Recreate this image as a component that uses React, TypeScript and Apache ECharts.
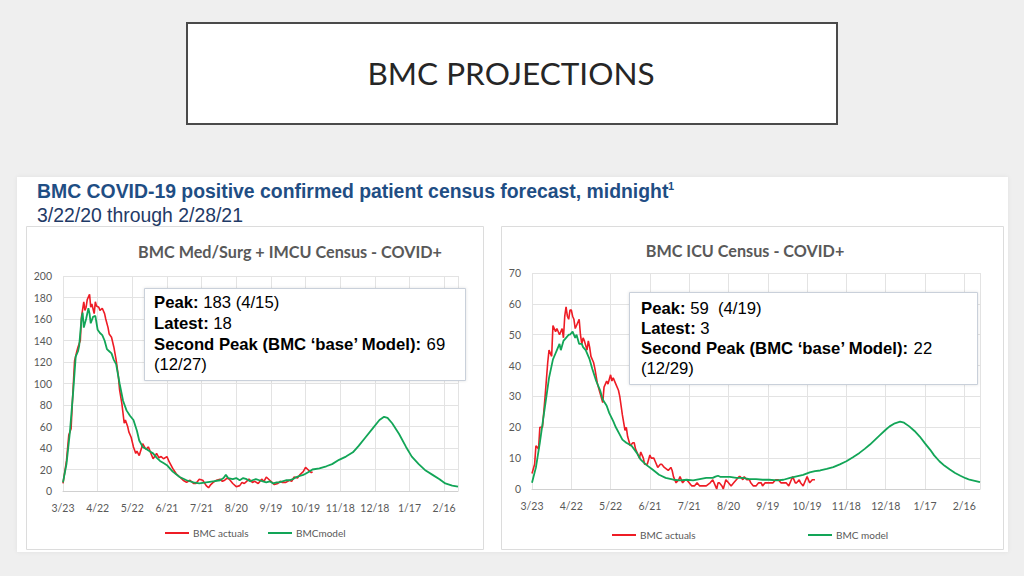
import React, { useEffect, useRef } from "react";
import * as echarts from "echarts";

// ---------- DATA ----------
const xTickStep = 30; // days between x ticks (3/23, 4/22, ...)
const xMaxDay = 342; // 2/28/21
const startDateUTC = Date.UTC(2020, 2, 23);

const leftActualDays = [0,3,5,7,8,10,12,13,15,16,18,19,20,21,23,24,25,27,28,29,31,32,34,36,37,39,40,42,44,46,48,49,51,53,54,56,57,59,61,63,64,66,68,69,71,72,74,75,78,80,81,83,85,87,90,92,95,98,101,104,107,110,113,115,118,121,124,126,128,130,133,136,138,140,142,144,147,150,153,155,157,159,161,164,166,169,172,174,176,179,181,183,186,188,190,193,196,198,200,203,205,208,210,212,213,215,216];
const leftActualVals = [7,28,52,58,80,121,130,134,140,162,176,168,171,178,183,171,174,165,176,172,171,168,170,165,160,152,146,143,134,122,106,94,81,63,66,60,55,50,41,35,37,33,40,44,40,39,41,38,30,33,35,31,32,30,32,27,21,16,13,10,8,10,7,7,11,10,5,3,6,8,10,11,9,10,12,11,7,4,5,8,7,9,11,8,9,7,11,9,13,10,8,6,7,9,8,8,10,9,13,12,15,18,22,20,19,17,18];

const leftModelDays = [0,3,6,9,11,13,14,16,17,18,20,22,23,24,26,28,30,32,34,36,38,40,42,44,46,49,52,55,58,61,64,66,69,72,75,78,81,84,87,90,95,101,107,113,118,124,130,136,139,141,143,147,150,153,156,159,162,164,167,170,173,176,179,182,185,187,190,193,196,199,202,205,208,210,213,216,222,228,233,239,245,251,256,262,268,274,278,281,285,291,297,302,308,314,320,326,331,337,342];
const leftModelVals = [8,25,55,95,125,130,135,160,166,152,160,170,165,156,162,163,150,147,145,140,132,130,128,122,118,100,84,75,70,66,56,47,41,39,37,35,31,28,26,24,18,13,10,8,7,8,9,10,12,15,12,11,12,10,12,11,9,10,11,10,9,8,9,7,8,8,9,10,10,11,13,14,15,16,18,20,21,23,25,29,32,36,42,50,58,66,69,68,63,53,41,32,25,19,15,11,7,5,4];

const rightActualDays = [0,2,3,5,6,8,10,12,13,15,16,18,19,21,23,24,25,26,27,28,29,30,31,32,33,34,36,37,38,39,40,42,43,44,45,47,48,50,52,54,55,57,58,60,61,62,64,66,67,69,71,72,73,75,77,78,79,81,82,83,85,86,88,90,91,93,94,96,98,99,101,104,106,107,108,110,112,113,115,117,118,120,122,124,126,128,129,131,133,136,138,140,141,142,143,145,146,148,150,152,154,156,158,159,161,162,164,166,167,169,171,173,175,176,178,180,182,184,186,188,190,192,194,196,198,199,201,202,204,205,207,209,210,212,214,215,216];
const rightActualVals = [5,8,14,13,20,20,30,41,45,43,53,51,52,50,52,49,56,59,56,55,58,58,56,55,52,53,55,50,47,49,48,45,48,46,43,41,39,34,31,28,33,35,34,37,35,36,34,32,30,24,19,20,17,14,15,15,13,11,10,12,10,8,8,11,10,10,9,7,8,8,7,6,7,6,4,2,3,4,2,3,3,2,1,1,2,1,1,1,1,2,3,1,0,2,2,1,0,3,2,1,2,3,4,4,3,4,3,3,2,1,1,2,2,1,2,2,2,2,3,3,2,2,2,1,3,4,2,2,3,2,1,3,4,2,3,3,3];

const rightModelDays = [0,3,6,8,11,13,16,18,19,21,22,24,26,28,29,31,33,34,36,38,39,41,44,46,49,52,54,57,59,62,64,67,69,72,76,80,83,87,92,97,102,108,113,118,123,128,133,138,140,142,144,146,151,156,161,166,171,176,181,187,192,197,202,207,212,216,220,225,230,235,240,245,250,254,258,262,266,270,273,277,281,284,288,292,296,300,304,307,311,315,319,323,327,331,334,338,342];
const rightModelVals = [2,7,15,21,30,36,42,44,45,47,45,48,49,50,50,51,49,50,47,47,46,45,42,39,35,32,29,27,24.6,22,20,17.6,16,15,14,11.7,9.5,7.9,6.3,4.6,3.6,3,2.8,3,2.8,3.2,3.6,3.6,4,4.3,3.9,3.9,3.9,3.6,3.6,3.2,3.2,3,3,2.8,3,3.6,4.1,4.6,5.4,5.8,6,6.5,7.1,8,9,10.3,11.7,13,14.4,16,17.6,19.2,20.3,21.3,21.8,21.5,20.3,18.8,17,14.8,12.7,10.9,9,7.5,6.3,5.2,4.3,3.5,3,2.6,2.2];

const leftTitle = "BMC Med/Surg + IMCU Census - COVID+";
const rightTitle = "BMC ICU Census - COVID+";
const seriesNames = ["BMC actuals", "BMCmodel", "BMC model"];

// ---------- HELPERS ----------
const zip = (a: number[], b: number[]) => a.map((d, i) => [d, b[i]]);
const dayLabel = (v: number) => {
  if (v % xTickStep !== 0) return "";
  const d = new Date(startDateUTC + v * 86400000);
  return `${d.getUTCMonth() + 1}/${d.getUTCDate()}`;
};

const RED = "#ee1c25";
const GREEN = "#12a557";
const GRID = "#e3e3e3";
const LABEL = "#595959";

export default function App() {
  const ref = useRef<HTMLDivElement>(null);
  useEffect(() => {
    if (!ref.current) return;
    const chart = echarts.init(ref.current, undefined, { renderer: "svg" });

    const xAxis = (gridIndex: number) => ({
      type: "value",
      gridIndex,
      min: 0,
      max: xMaxDay,
      interval: xTickStep,
      axisLine: { show: true, lineStyle: { color: "#d0d0d0" } },
      axisTick: { show: false },
      splitLine: { show: true, lineStyle: { color: GRID, width: 1 } },
      axisLabel: {
        formatter: dayLabel,
        color: LABEL,
        fontFamily: "Lato",
        fontSize: 10.5,
        margin: 11,
        showMaxLabel: false,
      },
    });
    const yAxis = (gridIndex: number, max: number, interval: number) => ({
      type: "value",
      gridIndex,
      min: 0,
      max,
      interval,
      axisLine: { show: false },
      axisTick: { show: false },
      splitLine: { show: true, lineStyle: { color: GRID, width: 1 } },
      axisLabel: { color: LABEL, fontFamily: "Lato", fontSize: 10.5, margin: 11 },
    });
    const line = (name: string, x: number, data: number[][], color: string, width: number) => ({
      type: "line",
      name,
      xAxisIndex: x,
      yAxisIndex: x,
      data,
      showSymbol: false,
      symbol: "none",
      lineStyle: { color, width },
      itemStyle: { color },
      z: color === RED ? 3 : 4,
    });

    const annot = (
      x: number,
      y: number,
      w: number,
      h: number,
      tx: number,
      ty: number,
      lh: number,
      lines: string
    ) => [
      {
        type: "rect",
        z: 20,
        shape: { x, y, width: w, height: h },
        style: {
          fill: "#ffffff",
          stroke: "#c9d0da",
          lineWidth: 1,
          shadowBlur: 3,
          shadowColor: "rgba(0,0,0,0.12)",
        },
      },
      {
        type: "text",
        z: 21,
        x: tx,
        y: ty,
        style: {
          text: lines,
          font: "16.7px 'Liberation Sans', Arial, sans-serif",
          fill: "#000000",
          lineHeight: lh,
          rich: {
            b: {
              fontFamily: "Liberation Sans",
              fontWeight: "bold",
              fontSize: 16.7,
              lineHeight: lh,
              fill: "#000",
            },
            r: { fontFamily: "Liberation Sans", fontSize: 16.7, lineHeight: lh, fill: "#000" },
          },
        },
      },
    ];

    const legendItem = (x1: number, y: number, color: string, text: string) => [
      {
        type: "line",
        z: 20,
        shape: { x1, y1: y, x2: x1 + 24, y2: y },
        style: { stroke: color, lineWidth: 2 },
      },
      {
        type: "text",
        z: 20,
        x: x1 + 28,
        y,
        style: {
          text,
          fill: LABEL,
          font: "10px Lato, sans-serif",
          verticalAlign: "middle",
        },
      },
    ];

    chart.setOption({
      animation: false,
      backgroundColor: "#efefef",
      grid: [
        { left: 63, top: 276, width: 395, height: 215 },
        { left: 532, top: 273, width: 448, height: 216 },
      ],
      xAxis: [xAxis(0), xAxis(1)],
      yAxis: [yAxis(0, 200, 20), yAxis(1, 70, 10)],
      series: [
        line(seriesNames[0], 0, zip(leftActualDays, leftActualVals), RED, 1.6),
        line(seriesNames[1], 0, zip(leftModelDays, leftModelVals), GREEN, 1.8),
        line(seriesNames[0], 1, zip(rightActualDays, rightActualVals), RED, 1.6),
        line(seriesNames[2], 1, zip(rightModelDays, rightModelVals), GREEN, 1.8),
      ],
      graphic: [
        // title box
        {
          type: "rect",
          z: -5,
          shape: { x: 187, y: 23, width: 650, height: 101 },
          style: { fill: "#ffffff", stroke: "#4a4a4a", lineWidth: 2 },
        },
        {
          type: "text",
          z: -4,
          x: 511,
          y: 73,
          style: {
            text: "BMC PROJECTIONS",
            font: "31.5px Lato, sans-serif",
            fill: "#262626",
            align: "center",
            verticalAlign: "middle",
          },
        },
        // white panel
        {
          type: "rect",
          z: -5,
          shape: { x: 17, y: 177, width: 991, height: 375 },
          style: { fill: "#ffffff", shadowBlur: 4, shadowColor: "rgba(0,0,0,0.06)" },
        },
        {
          type: "text",
          z: -4,
          x: 37,
          y: 191,
          style: {
            text: "BMC COVID-19 positive confirmed patient census forecast, midnight",
            font: "bold 19.4px 'Liberation Sans', Arial, sans-serif",
            fill: "#1f4e84",
            verticalAlign: "middle",
          },
        },
        {
          type: "text",
          z: -4,
          x: 668,
          y: 186,
          style: {
            text: "1",
            font: "bold 11px 'Liberation Sans', Arial, sans-serif",
            fill: "#1f4e84",
            verticalAlign: "middle",
          },
        },
        {
          type: "text",
          z: -4,
          x: 37,
          y: 215,
          style: {
            text: "3/22/20 through 2/28/21",
            font: "19.4px 'Liberation Sans', Arial, sans-serif",
            fill: "#1f3a66",
            verticalAlign: "middle",
          },
        },
        // chart frames
        {
          type: "rect",
          z: -4,
          shape: { x: 26.5, y: 226.5, width: 457, height: 323 },
          style: { fill: "#ffffff", stroke: "#dcdcdc", lineWidth: 1 },
        },
        {
          type: "rect",
          z: -4,
          shape: { x: 501.5, y: 226.5, width: 502, height: 323 },
          style: { fill: "#ffffff", stroke: "#dcdcdc", lineWidth: 1 },
        },
        {
          type: "text",
          z: -3,
          x: 290,
          y: 251,
          style: {
            text: leftTitle,
            font: "bold 16.2px Lato, sans-serif",
            fill: LABEL,
            align: "center",
            verticalAlign: "middle",
          },
        },
        {
          type: "text",
          z: -3,
          x: 745,
          y: 250,
          style: {
            text: rightTitle,
            font: "bold 16.2px Lato, sans-serif",
            fill: LABEL,
            align: "center",
            verticalAlign: "middle",
          },
        },
        ...annot(
          144.5,
          288.5,
          321,
          92,
          154,
          292,
          20.8,
          "{b|Peak:}{r| 183 (4/15)}\n{b|Latest:}{r| 18}\n{b|Second Peak (BMC ‘base’ Model):}{r| 69}\n{r|(12/27)}"
        ),
        ...annot(
          629.5,
          292.5,
          348,
          92,
          641,
          298,
          20.2,
          "{b|Peak:}{r| 59  (4/19)}\n{b|Latest:}{r| 3}\n{b|Second Peak (BMC ‘base’ Model):}{r| 22}\n{r|(12/29)}"
        ),
        ...legendItem(165, 533, RED, seriesNames[0]),
        ...legendItem(268, 533, GREEN, seriesNames[1]),
        ...legendItem(612, 535, RED, seriesNames[0]),
        ...legendItem(808, 535, GREEN, seriesNames[2]),
      ],
    });
    return () => chart.dispose();
  }, []);
  return (
    <div
      ref={ref}
      style={{ position: "fixed", left: 0, top: 0, width: 1024, height: 576 }}
    />
  );
}
